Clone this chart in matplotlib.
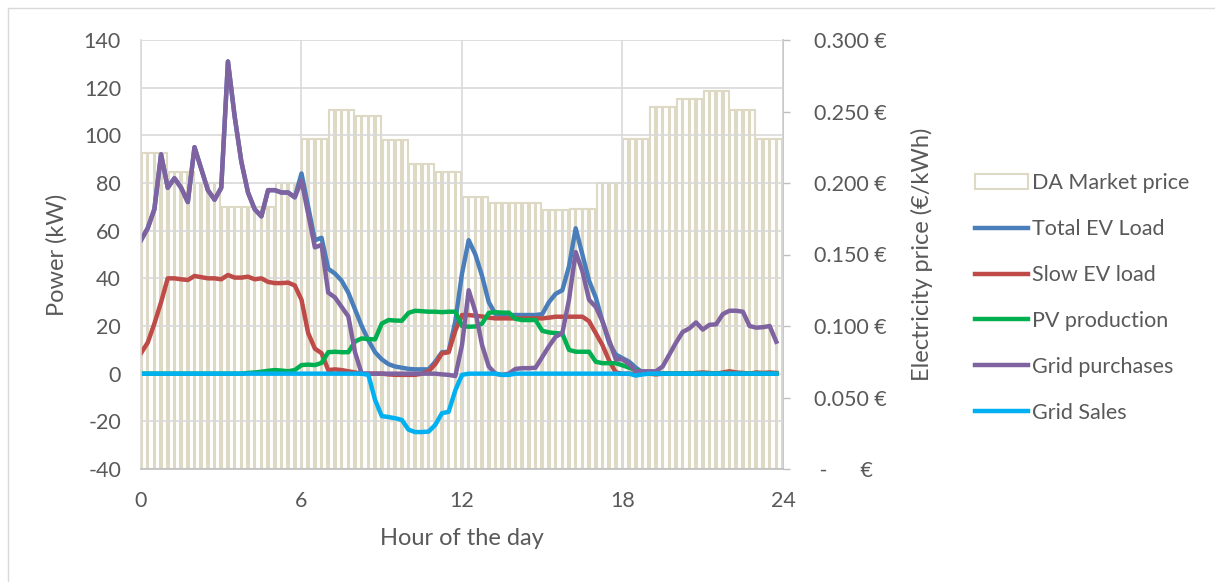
"""
Perfil diario: cargas EV, PV, compras/ventas a red y precio DA.
"""

import numpy as np
import matplotlib
matplotlib.use('Agg')
import matplotlib.pyplot as plt
from matplotlib.ticker import FuncFormatter
from matplotlib.lines import Line2D

plt.rcParams['font.family'] = ['Lato', 'DejaVu Sans']
plt.rcParams['axes.unicode_minus'] = False

# precio horario mercado diario (EUR/kWh), una barra cada 15 min
hours = list(range(24))
da_price = [0.221, 0.208, 0.200, 0.183, 0.183, 0.200, 0.231, 0.251,
            0.247, 0.230, 0.213, 0.2075, 0.1905, 0.186, 0.186, 0.181,
            0.182, 0.200, 0.231, 0.253, 0.259, 0.264, 0.251, 0.231]

# potencias cada 15 min (kW), 96 valores
total_ev = [56, 61, 69, 92, 78, 82, 78, 72, 95, 86, 77, 73,
            78, 131, 108, 89, 76, 69, 66, 77, 77, 76, 76, 74,
            84, 70, 56, 57, 44, 42, 39, 34, 27, 20, 14, 9,
            6, 4, 3, 2.5, 2, 1.8, 1.8, 1.8, 5, 9, 9.2, 22,
            42, 56, 50, 41, 30, 25, 24.6, 24.6, 24.6, 24.6, 24.6, 24.6,
            25, 30, 33.5, 35, 45, 61, 50, 39, 32, 22, 13, 8,
            6.5, 5, 2.5, 0.5, 0, 0, 0, 0, 0, 0, 0, 0,
            0, 0, 0, 0, 0, 0, 0, 0, 0, 0, 0, 0]

slow_ev = [8.6, 13, 21, 30, 40, 40, 39.6, 39.3, 41, 40.5, 40, 40,
           39.6, 41.4, 40.3, 40.3, 40.7, 39.6, 40, 38.5, 38, 38, 38.2, 37,
           31, 17, 10.5, 8.6, 1.5, 1.8, 1.5, 1, 0.5, 0, 0, 0,
           0, -0.3, -0.5, -0.5, -0.5, -0.5, 0, 1, 4, 8.5, 9, 18,
           24.6, 24.6, 24.3, 24, 23.5, 23.2, 23.2, 23.2, 23.2, 23.2, 23.2, 23.2,
           23.2, 23.5, 23.9, 23.9, 23.9, 23.9, 23.9, 22, 17, 12, 5.5, 0.5,
           0, 0, 0, 0, 0, -0.3, 0, 0, 0, 0, 0, 0.3,
           0.5, 0.3, 0, 0.5, 1, 0.5, 0.3, 0, 0.5, 0.3, 0.5, 0.3]

pv = [0, 0, 0, 0, 0, 0, 0, 0, 0, 0, 0, 0,
      0, 0, 0, 0, 0.3, 0.5, 0.8, 1.2, 1.5, 1.3, 1.0, 1.5,
      3.6, 3.8, 3.6, 4.5, 9, 9.2, 9, 9, 13.5, 14.8, 14.5, 14.4,
      21, 22.5, 22.3, 22.2, 25.5, 26.4, 26.2, 26, 26, 25.8, 26, 26,
      20, 19.7, 19.8, 21, 25.5, 25.8, 25.6, 25.6, 23, 22.5, 22.5, 22.5,
      18, 17.3, 17, 16.8, 10, 9.2, 9.2, 9.2, 5, 4.4, 4.4, 4.4,
      3.5, 2.5, 1.5, 0.8, 0.3, 0, 0, 0, 0, 0, 0, 0,
      0, 0, 0, 0, 0, 0, 0, 0, 0, 0, 0, 0]

grid_purch = [56, 61, 69, 92, 78, 82, 78, 72, 95, 86, 77, 73,
              78, 131, 108, 89, 76, 69, 66, 77, 77, 76, 76, 74,
              81, 67, 53, 54, 34, 32, 28, 24, 9, 0, 0, 0,
              0, 0, 0, 0, 0, 0, 0, 0, 0, -0.3, -0.5, -1,
              12, 35, 26, 12, 3, 0, -0.5, 0, 2, 2.3, 2.3, 2.5,
              7, 11.5, 15.5, 17, 31, 51, 43, 31, 28, 22, 14, 6,
              6, 4, 1, 1, 1, 1, 3, 8, 13, 17.5, 19, 21.5,
              18.5, 20.5, 20.7, 25, 26.4, 26.4, 26, 20, 19.3, 19.5, 20, 13.4]

grid_sales = [0, 0, 0, 0, 0, 0, 0, 0, 0, 0, 0, 0,
              0, 0, 0, 0, 0, 0, 0, 0, 0, 0, 0, 0,
              0, 0, 0, 0, 0, 0, 0, 0, 0, 0, -0.5, -11,
              -17.8, -18.2, -18.7, -19.4, -23.5, -24.5, -24.5, -24.3, -21.5, -16.6, -16, -7,
              -0.5, 0, 0, 0, 0, 0, -0.5, -0.5, 0, 0, 0, 0,
              0, 0, 0, 0, 0, 0, 0, 0, 0, 0, 0, 0,
              0, 0, -0.8, -0.3, 0, 0, 0, 0, 0, 0, 0, 0,
              0, 0, 0, 0, 0, 0, 0, 0, 0, 0, 0, 0]

t = np.arange(96) / 4.0
price_q = np.repeat(da_price, 4)

txt = '#595959'
fs_tick = 15.5
fs_lab = 17
fig = plt.figure(figsize=(12.15, 5.82), dpi=100)
ax = fig.add_axes([141/1215, 1-469/582, (783-141)/1215, (469-40)/582])
ax2 = ax.twinx()

# barras de precio (eje derecho), sin relleno
bars = ax2.bar(t + 0.125, price_q, width=0.19, facecolor='none',
               edgecolor='#DDD9C4', linewidth=1.5, label='DA Market price')
ax2.set_ylim(0, 0.3)
ax2.set_yticks(np.arange(0, 0.301, 0.05))
ax2.yaxis.set_major_formatter(FuncFormatter(
    lambda v, p: ' -' + ' '*6 + '€' if abs(v) < 1e-9 else f'{v:.3f} €'))
ax2.tick_params(axis='y', length=5, width=1, color='#BFBFBF', pad=17,
                labelsize=fs_tick, labelcolor=txt)
for s in ['top', 'left', 'bottom']:
    ax2.spines[s].set_visible(False)
ax2.spines['right'].set_color('#BFBFBF')
ax2.spines['right'].set_linewidth(1.2)
ax2.set_ylabel('Electricity price (€/kWh)', fontsize=fs_lab, color=txt, labelpad=18)

ax.set_zorder(ax2.get_zorder() + 1)
ax.patch.set_visible(False)

lw = 3.2
ax.plot(t, total_ev, color='#4A7EBB', lw=lw, label='Total EV Load', solid_joinstyle='round')
ax.plot(t, slow_ev, color='#BE4B48', lw=lw, label='Slow EV load', solid_joinstyle='round')
ax.plot(t, pv, color='#00B050', lw=lw, label='PV production', solid_joinstyle='round')
ax.plot(t, grid_purch, color='#7F63A1', lw=lw, label='Grid purchases', solid_joinstyle='round')
ax.plot(t, grid_sales, color='#00B0F0', lw=lw, label='Grid Sales', solid_joinstyle='round')

ax.set_xlim(0, 24)
ax.set_ylim(-40, 140)
ax.set_xticks([0, 6, 12, 18, 24])
ax.set_yticks(np.arange(-40, 141, 20))
ax.grid(True, color='#D9D9D9', lw=1.2)
ax.set_axisbelow(True)
ax.tick_params(axis='y', length=0, pad=14.4, labelsize=fs_tick, labelcolor=txt)
ax.tick_params(axis='x', length=0, pad=16, labelsize=fs_tick, labelcolor=txt)
ax.spines['top'].set_visible(False)
ax.spines['right'].set_visible(False)
ax.spines['left'].set_color('#D9D9D9')
ax.spines['bottom'].set_color('#BFBFBF')
ax.spines['left'].set_linewidth(1.2)
ax.spines['bottom'].set_linewidth(1.2)
ax.set_ylabel('Power (kW)', fontsize=fs_lab, color=txt, labelpad=12)
ax.set_xlabel('Hour of the day', fontsize=fs_lab, color=txt, labelpad=12)

handles = [bars] + ax.get_lines()
labels = [h.get_label() for h in handles]
fig.legend(handles, labels, loc='center left',
           bbox_to_anchor=(975/1215, 1-298/582), bbox_transform=fig.transFigure,
           frameon=False, fontsize=15.5, labelcolor=txt, handlelength=2.45,
           handletextpad=0.2, labelspacing=1.2, borderpad=0, borderaxespad=0)

# marco del area de grafico
fig.add_artist(Line2D([8/1215, 8/1215], [0, 1-8/582], color='#D9D9D9', lw=1,
                      transform=fig.transFigure))
fig.add_artist(Line2D([8/1215, 1], [1-8/582, 1-8/582], color='#D9D9D9', lw=1,
                      transform=fig.transFigure))

plt.savefig('out.png', dpi=100)
